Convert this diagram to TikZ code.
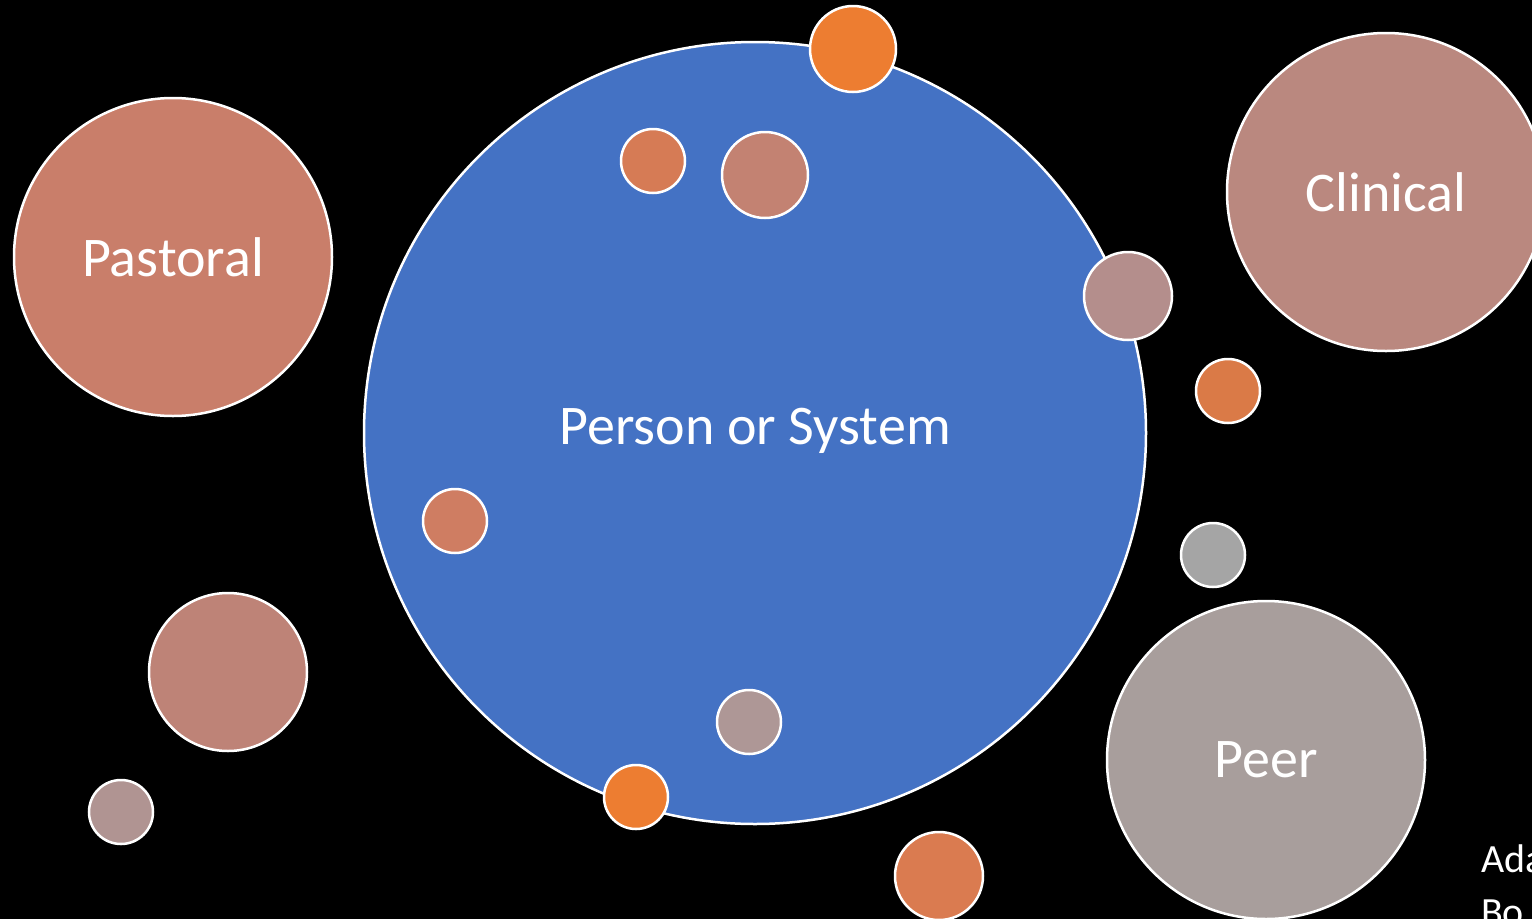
\documentclass[tikz,border=0pt]{standalone}
\usepackage{fontspec}
\setmainfont{Carlito}
\definecolor{blueMain}{HTML}{4472C4}
\definecolor{orangeA}{HTML}{ED7D31}
\definecolor{orangeB}{HTML}{D67B55}
\definecolor{orangeC}{HTML}{DA7A47}
\definecolor{pinkA}{HTML}{C38272}
\definecolor{pastoralC}{HTML}{C97E6A}
\definecolor{clinicalC}{HTML}{BA887F}
\definecolor{peerC}{HTML}{A89E9C}
\definecolor{greyC}{HTML}{A5A5A5}
\definecolor{roseA}{HTML}{B48E8C}
\definecolor{roseB}{HTML}{BE8377}
\definecolor{roseC}{HTML}{B09492}
\definecolor{terraC}{HTML}{CF7D62}
\definecolor{roseD}{HTML}{AE9796}
\definecolor{orangeD}{HTML}{DA7B50}
\begin{document}
\begin{tikzpicture}[x=1pt,y=-1pt,
  bubble/.style={circle,draw=white,line width=2.5pt,inner sep=0pt,text=white,
    font=\fontsize{56}{62}\selectfont},
  r/.style={minimum size=#1*2pt}]
  % background and frame
  \fill[black] (0,0) rectangle (1532,919);
  \clip (0,0) rectangle (1532,919);

  % central circle
  \node[bubble,r=391,fill=blueMain] (core) at (755,433) {};
  \node[text=white,font=\fontsize{56}{62}\selectfont] (coretext) at (755,431) {Person or System};

  % large outer circles
  \node[bubble,r=159,fill=pastoralC] (pastoral) at (173,257) {Pastoral};
  \node[bubble,r=159,fill=clinicalC] (clinical) at (1386,192) {Clinical};
  \node[bubble,r=159,fill=peerC] (peer) at (1266,760) {Peer};
  \node[bubble,r=79,fill=roseB] (bl) at (228,672) {};

  % small circles
  \node[bubble,r=43,fill=orangeA] (s1) at (853,49) {};
  \node[bubble,r=32,fill=orangeB] (s2) at (653,161) {};
  \node[bubble,r=43,fill=pinkA] (s3) at (765,175) {};
  \node[bubble,r=44,fill=roseA] (s4) at (1128,296) {};
  \node[bubble,r=32,fill=orangeC] (s5) at (1228,391) {};
  \node[bubble,r=32,fill=greyC] (s6) at (1213,555) {};
  \node[bubble,r=32,fill=roseC] (s7) at (121,812) {};
  \node[bubble,r=32,fill=terraC] (s8) at (455,521) {};
  \node[bubble,r=32,fill=roseD] (s9) at (749,722) {};
  \node[bubble,r=32,fill=orangeA] (s10) at (636,797) {};
  \node[bubble,r=44,fill=orangeD] (s11) at (939,876) {};

  % attribution, running off the right and bottom edges
  \node[anchor=base west,text=white,inner sep=0pt,font=\fontsize{40}{48}\selectfont] (att1) at (1481,872) {Ada};
  \node[anchor=base west,text=white,inner sep=0pt,font=\fontsize{40}{48}\selectfont] (att2) at (1481,925) {Bo};
\end{tikzpicture}
\end{document}
